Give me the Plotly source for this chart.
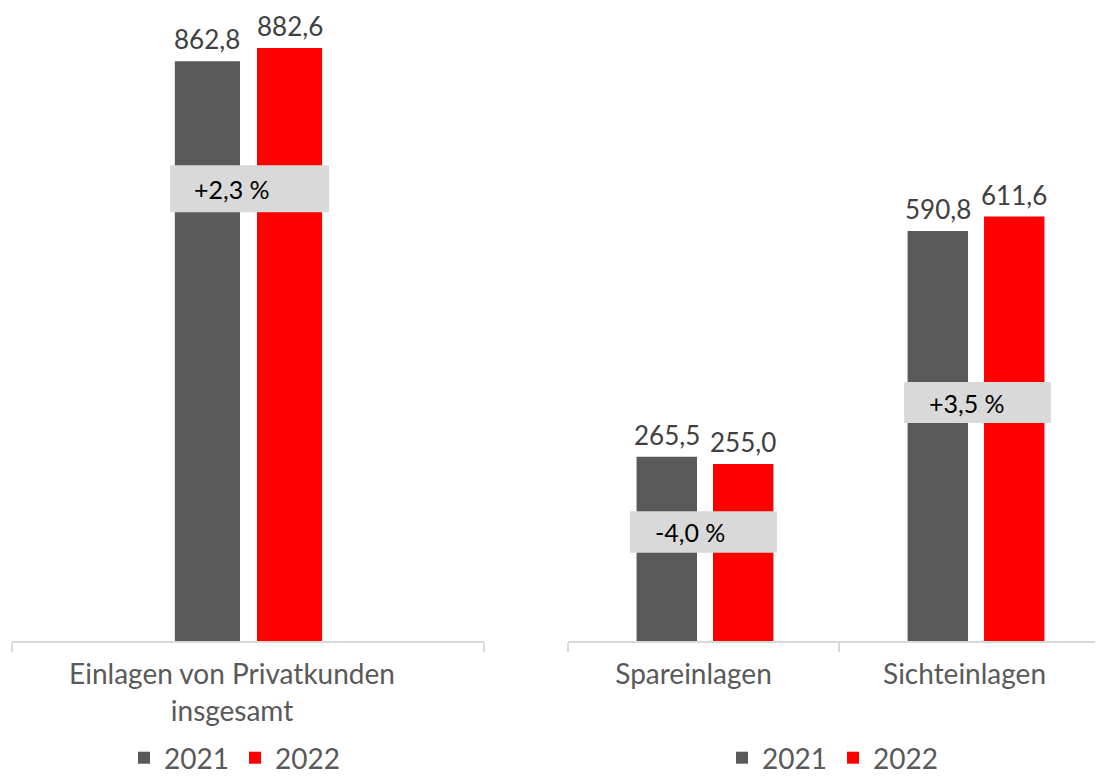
import plotly.graph_objects as go

# ---- data ----
years = ["2021", "2022"]
cat_left = ["Einlagen von Privatkunden<br>insgesamt"]
cat_right = ["Spareinlagen", "Sichteinlagen"]
left_2021 = [862.8]
left_2022 = [882.6]
right_2021 = [265.5, 590.8]
right_2022 = [255.0, 611.6]

# ---- styles ----
COL = {"2021": "#595959", "2022": "#ff0000"}
FONT = "Lato, 'Open Sans', sans-serif"
LBL = "#404040"
AX = "#595959"

# page body has an 8px margin; figure is sized to fit the window
OFF = 8
W, H = 1103 - OFF, 776 - OFF

fig = go.Figure()

panels = [
    dict(cats=cat_left, v21=left_2021, v22=left_2022, xa="x", ya="y", lg="legend",
         width=0.138, off=(-0.155, 0.019)),
    dict(cats=cat_right, v21=right_2021, v22=right_2022, xa="x2", ya="y2", lg="legend2",
         width=0.223, off=(-0.247, 0.035)),
]

for p in panels:
    for k, (yr, vals) in enumerate(zip(years, [p["v21"], p["v22"]])):
        fig.add_trace(go.Bar(
            x=p["cats"], y=vals, name=yr, marker_color=COL[yr], marker_line_width=0,
            width=p["width"], offset=p["off"][k],
            xaxis=p["xa"], yaxis=p["ya"], legend=p["lg"],
            hoverinfo="skip",
        ))
        # value labels above bars
        for ci, v in enumerate(vals):
            fig.add_annotation(
                xref=p["xa"], yref=p["ya"],
                x=ci + p["off"][k] + p["width"] / 2, y=v,
                text=f"{v:.1f}".replace(".", ","), showarrow=False,
                xanchor="center", yanchor="bottom", yshift=5, borderpad=0,
                font=dict(size=26, color=LBL, family=FONT))

# percentage change boxes (layout positions only)
box_specs = [
    # (panel index, category index, y0, y1, x0off, x1off, textoff)
    (0, 0, 638, 708, -0.165, 0.172, -0.118),
    (1, 0, 127, 187, -0.271, 0.271, -0.187),
    (1, 1, 314, 373, -0.260, 0.282, -0.176),
]
for pi, ci, y0, y1, x0o, x1o, to in box_specs:
    p = panels[pi]
    pct = (p["v22"][ci] / p["v21"][ci] - 1) * 100
    txt = f"{pct:+.1f} %".replace(".", ",")
    xr = p["xa"]
    yr = p["ya"]
    fig.add_shape(type="rect", xref=xr, yref=yr, x0=ci + x0o, x1=ci + x1o, y0=y0, y1=y1,
                  fillcolor="#d9d9d9", line_width=0, layer="above")
    fig.add_annotation(xref=xr, yref=yr, x=ci + to, y=(y0 + y1) / 2, text=txt,
                       showarrow=False, xanchor="left", yanchor="middle",
                       font=dict(size=25, color="#000000", family=FONT))

axis_common = dict(showline=True, linecolor="#d9d9d9", linewidth=1.5, ticks="outside",
                   tickcolor="#d9d9d9", ticklen=9, tickwidth=1.5, tickson="boundaries",
                   showgrid=False, zeroline=False, fixedrange=True, automargin=False,
                   ticklabelstandoff=8,
                   tickfont=dict(size=28, color=AX, family=FONT))
ybottom = (H - (641 - OFF)) / H

legend_common = dict(orientation="h", xanchor="center", y=(H - (758 - OFF)) / H, yanchor="middle",
                     font=dict(size=28, color=AX, family=FONT), bgcolor="rgba(0,0,0,0)",
                     entrywidth=66, itemclick=False, itemdoubleclick=False)

fig.update_layout(
    width=W, height=H,
    margin=dict(l=0, r=0, t=0, b=0, autoexpand=False),
    paper_bgcolor="white", plot_bgcolor="white",
    barmode="group",
    font=dict(family=FONT),
    xaxis=dict(domain=[(12 - OFF) / W, (484 - OFF) / W], range=[-0.5, 0.5], anchor="y",
               ticklabelshift=-16, **axis_common),
    xaxis2=dict(domain=[(568 - OFF) / W, 1.0], range=[-0.5, 1.474], anchor="y2",
                ticklabelshift=-10, **axis_common),
    yaxis=dict(domain=[ybottom, 1.0], range=[0, 942], visible=False, anchor="x"),
    yaxis2=dict(domain=[ybottom, 1.0], range=[0, 912], visible=False, anchor="x2"),
    showlegend=True,
    legend=dict(x=(235 - OFF) / W, **legend_common),
    legend2=dict(x=(833 - OFF) / W, **legend_common),
)

fig.write_html("out.html")
